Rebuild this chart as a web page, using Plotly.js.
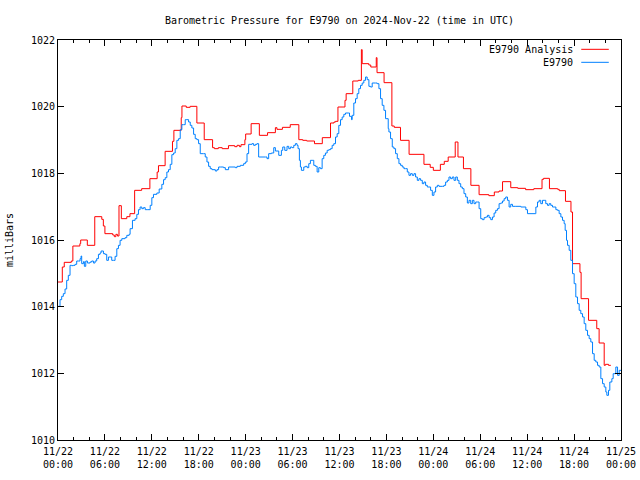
<!DOCTYPE html>
<html>
<head>
<meta charset="utf-8">
<script src="https://cdn.plot.ly/plotly-3.0.1.min.js"></script>
<style>html,body{margin:0;padding:0;background:#fff}#chart{width:640px;height:480px}</style>
</head>
<body>
<div id="chart"></div>
<script>
// Hours after 2024-11-22 00:00 UTC
const startUTC = Date.UTC(2024, 10, 22, 0, 0, 0);
const titleText = "Barometric Pressure for E9790 on 2024-Nov-22 (time in UTC)";
const yTitle = "milliBars";
const seriesNames = ["E9790 Analysis", "E9790"];

const analysisHours = [0,0.55,0.8,1.7,1.9,2.8,2.9,3.75,4.7,5.6,5.8,6.0,7.0,7.2,7.4,7.6,7.8,8.1,8.8,9.2,9.8,10.7,11.75,12.68,12.85,13.7,14.64,14.82,15.76,15.85,16.4,16.9,17.76,18.7,19.77,20.0,20.5,21.0,21.8,22.6,22.9,23.2,23.4,23.9,24.0,24.7,25.75,26.8,27.8,28.0,28.7,29.7,30.8,31.3,31.8,32.8,33.8,34.85,35.3,35.5,35.8,36.7,36.85,37.7,38.4,38.8,38.9,39.75,40.0,40.7,40.8,41.7,42.7,43.0,43.8,44.9,46.8,47.6,48.0,48.9,49.4,49.9,50.8,51.15,51.85,52.8,53.85,55.1,55.8,56.4,56.85,57.9,58.8,59.8,60.85,61.9,62.1,62.85,63.9,64.1,64.9,65.6,65.8,66.75,66.9,67.85,68.9,69.2,69.85,70.0,70.4,70.7];
const analysisValues = [1014.74,1015.19,1015.33,1015.37,1015.82,1015.89,1016.00,1015.84,1016.70,1016.62,1016.42,1016.19,1016.15,1016.10,1016.17,1016.12,1017.03,1016.64,1016.70,1016.79,1017.49,1017.54,1017.84,1018.04,1018.23,1018.66,1018.96,1019.29,1019.67,1020.02,1019.98,1020.01,1019.51,1019.01,1018.77,1018.74,1018.77,1018.74,1018.83,1018.80,1018.84,1018.80,1018.86,1019.01,1019.18,1019.49,1019.14,1019.22,1019.37,1019.32,1019.38,1019.46,1019.01,1018.99,1018.97,1018.89,1019.07,1019.51,1019.54,1019.56,1019.99,1020.19,1020.39,1020.77,1020.79,1021.71,1021.29,1021.25,1021.19,1021.47,1021.02,1020.72,1019.42,1019.38,1018.99,1018.57,1018.27,1018.18,1018.09,1018.27,1018.36,1018.49,1018.94,1018.49,1018.14,1017.64,1017.36,1017.33,1017.44,1017.47,1017.75,1017.57,1017.55,1017.51,1017.54,1017.82,1017.85,1017.54,1017.52,1017.48,1017.16,1016.84,1015.29,1015.03,1014.24,1013.59,1013.34,1012.91,1012.24,1012.27,1012.24,1012.24];

const stationHours = [0.04,0.26,0.47,0.68,0.90,1.11,1.32,1.54,1.75,1.96,2.18,2.39,2.60,2.82,2.95,3.03,3.25,3.37,3.55,3.76,4.10,4.31,4.53,4.74,4.95,5.17,5.38,5.51,5.81,6.02,6.23,6.45,6.66,6.87,7.09,7.30,7.52,7.73,7.94,8.16,8.58,8.80,9.10,9.22,9.52,9.86,10.08,10.29,10.50,10.72,10.93,11.15,11.49,11.79,12.00,12.21,12.64,12.94,13.28,13.50,13.71,13.92,14.13,14.35,14.56,14.78,14.99,15.20,15.42,15.63,15.84,16.06,16.27,16.48,16.70,16.91,17.12,17.34,17.55,17.76,17.98,18.19,18.62,18.83,19.05,19.26,19.47,19.69,20.12,20.33,20.54,20.75,21.18,21.40,21.82,22.25,22.68,22.89,23.32,23.53,23.74,23.96,24.17,24.38,24.81,25.02,25.24,25.45,25.66,26.09,26.52,26.73,26.94,27.29,27.59,27.80,28.01,28.23,28.57,28.74,29.00,29.29,29.51,29.72,29.93,30.15,30.36,30.57,30.70,30.87,31.00,31.13,31.43,31.64,31.86,32.07,32.28,32.50,32.71,32.92,33.14,33.35,33.56,33.78,33.99,34.20,34.42,34.63,34.85,35.06,35.27,35.49,35.70,35.91,36.13,36.34,36.55,36.77,37.11,37.28,37.54,37.62,37.83,38.05,38.26,38.47,38.69,38.90,39.11,39.33,39.54,39.76,39.97,40.18,40.61,40.82,41.04,41.25,41.46,41.68,41.89,42.23,42.32,42.53,42.75,42.96,43.17,43.39,43.60,43.81,44.03,44.24,44.45,44.67,44.88,45.09,45.31,45.52,45.73,45.95,46.16,46.37,46.59,46.80,47.01,47.23,47.44,47.65,47.87,48.08,48.29,48.51,48.72,49.15,49.36,49.57,49.79,50.00,50.21,50.43,50.64,50.86,51.07,51.28,51.50,51.71,51.92,52.14,52.35,52.56,52.78,52.99,53.20,53.42,53.63,53.85,54.06,54.27,54.49,54.70,54.92,55.13,55.34,55.56,55.77,55.98,56.20,56.41,56.62,56.84,57.05,57.26,57.48,57.69,57.90,58.12,58.55,59.19,59.83,60.04,61.02,61.11,61.32,61.53,61.74,61.96,62.17,62.38,62.60,62.81,63.02,63.24,63.45,63.67,63.88,64.09,64.31,64.52,64.73,64.86,65.03,65.16,65.37,65.58,65.80,66.01,66.22,66.44,66.65,66.86,67.08,67.29,67.50,67.72,67.93,68.14,68.36,68.57,68.78,69.00,69.21,69.42,69.64,69.85,70.06,70.19,70.40,70.57,70.83,71.00,71.34,71.56,71.77,71.98];
const stationValues = [1014.01,1014.21,1014.31,1014.39,1014.53,1014.79,1014.94,1015.24,1015.23,1015.24,1015.27,1015.37,1015.37,1015.44,1015.52,1015.29,1015.35,1015.21,1015.37,1015.31,1015.34,1015.37,1015.31,1015.37,1015.44,1015.57,1015.61,1015.67,1015.59,1015.57,1015.39,1015.49,1015.49,1015.39,1015.39,1015.51,1015.74,1015.84,1015.99,1016.04,1016.07,1016.14,1016.17,1016.34,1016.59,1016.64,1016.77,1016.91,1016.99,1016.94,1016.97,1016.91,1016.91,1017.04,1017.27,1017.37,1017.41,1017.53,1017.67,1017.81,1017.87,1018.04,1018.11,1018.27,1018.56,1018.61,1018.74,1018.99,1019.04,1019.31,1019.46,1019.46,1019.61,1019.61,1019.54,1019.44,1019.36,1019.17,1019.04,1019.01,1018.89,1018.59,1018.59,1018.49,1018.34,1018.21,1018.14,1018.11,1018.07,1018.11,1018.19,1018.19,1018.17,1018.11,1018.19,1018.19,1018.17,1018.21,1018.24,1018.24,1018.29,1018.34,1018.59,1018.87,1018.89,1018.84,1018.87,1018.89,1018.49,1018.49,1018.49,1018.44,1018.59,1018.61,1018.77,1018.67,1018.67,1018.54,1018.69,1018.79,1018.69,1018.81,1018.74,1018.79,1018.77,1018.84,1018.89,1018.84,1018.74,1018.39,1018.19,1018.09,1018.19,1018.21,1018.17,1018.29,1018.39,1018.39,1018.24,1018.21,1018.04,1018.17,1018.14,1018.44,1018.54,1018.61,1018.69,1018.71,1018.74,1018.84,1018.89,1019.09,1019.19,1019.44,1019.61,1019.69,1019.77,1019.81,1019.81,1019.71,1019.61,1019.74,1020.11,1020.24,1020.39,1020.54,1020.64,1020.71,1020.79,1020.89,1020.81,1020.61,1020.59,1020.71,1020.71,1020.69,1020.54,1020.24,1020.04,1019.89,1019.64,1019.34,1019.24,1019.04,1018.79,1018.74,1018.59,1018.44,1018.29,1018.24,1018.19,1018.14,1018.14,1018.04,1017.94,1017.99,1017.94,1017.99,1017.89,1017.79,1017.84,1017.79,1017.69,1017.74,1017.64,1017.59,1017.59,1017.49,1017.34,1017.44,1017.59,1017.64,1017.61,1017.61,1017.64,1017.74,1017.79,1017.89,1017.84,1017.89,1017.79,1017.89,1017.79,1017.69,1017.59,1017.54,1017.39,1017.29,1017.11,1017.19,1017.09,1017.19,1017.09,1017.14,1017.14,1016.94,1016.64,1016.61,1016.67,1016.69,1016.74,1016.67,1016.61,1016.69,1016.81,1016.89,1016.94,1017.09,1017.11,1017.17,1017.24,1017.29,1017.19,1016.99,1017.07,1017.01,1017.01,1016.99,1016.91,1016.79,1016.79,1016.99,1017.14,1017.19,1017.09,1017.19,1017.19,1017.09,1017.04,1017.09,1017.04,1016.99,1016.99,1016.91,1016.89,1016.79,1016.69,1016.59,1016.49,1016.29,1015.99,1015.84,1015.69,1015.39,1014.99,1014.69,1014.29,1014.09,1013.89,1013.79,1013.69,1013.49,1013.29,1013.14,1013.04,1012.94,1012.59,1012.39,1012.34,1012.24,1012.19,1011.84,1011.69,1011.59,1011.44,1011.34,1011.49,1011.74,1011.84,1011.99,1012.19,1011.94,1012.09,1012.07];

const toTime = h => startUTC + h * 3600000;
const FONT = "DejaVu Sans Mono, Liberation Mono, monospace";
const RED = "#ff0000", BLUE = "#0080ff";

const traces = [
  {x: analysisHours.map(toTime), y: analysisValues, name: seriesNames[0], type: "scatter", mode: "lines",
   line: {color: RED, width: 1, shape: "hv"}, showlegend: false},
  {x: stationHours.map(toTime), y: stationValues, name: seriesNames[1], type: "scatter", mode: "lines",
   line: {color: BLUE, width: 1, shape: "hv"}, showlegend: false}
];

const layout = {
  width: 640, height: 480,
  margin: {l: 58, r: 19, t: 40, b: 40},
  paper_bgcolor: "#fff", plot_bgcolor: "#fff",
  font: {family: FONT, size: 10, color: "#000"},
  title: {text: titleText, x: 0.5, xref: "paper", xanchor: "center", y: 0.958, yref: "container", yanchor: "middle", font: {family: FONT, size: 10, color: "#000"}},
  xaxis: {
    type: "date", range: [toTime(0), toTime(72)],
    tick0: toTime(0), dtick: 6 * 3600000, tickformat: "%m/%d<br>%H:%M",
    ticks: "inside", ticklen: 6, tickwidth: 1, tickcolor: "#000", ticklabelstandoff: 2,
    minor: {dtick: 2 * 3600000, ticks: "inside", ticklen: 3, tickcolor: "#000", showgrid: false},
    showline: true, linecolor: "#000", linewidth: 1, mirror: "ticks",
    showgrid: false, zeroline: false, fixedrange: true,
    tickfont: {family: FONT, size: 10, color: "#000"}
  },
  yaxis: {
    range: [1010, 1022], tick0: 1010, dtick: 2,
    ticks: "inside", ticklen: 6, tickwidth: 1, tickcolor: "#000",
    showline: true, linecolor: "#000", linewidth: 1, mirror: "ticks",
    showgrid: false, zeroline: false, fixedrange: true,
    title: {text: yTitle, standoff: 15, font: {family: FONT, size: 10, color: "#000"}},
    tickfont: {family: FONT, size: 10, color: "#000"}
  },
  annotations: [
    {text: seriesNames[0], xref: "paper", yref: "paper", x: 0.9175, y: 0.9767, xanchor: "right", yanchor: "middle", showarrow: false, font: {family: FONT, size: 10, color: "#000"}},
    {text: seriesNames[1], xref: "paper", yref: "paper", x: 0.9175, y: 0.9442, xanchor: "right", yanchor: "middle", showarrow: false, font: {family: FONT, size: 10, color: "#000"}}
  ],
  shapes: [
    {type: "line", xref: "paper", yref: "paper", x0: 0.9294, x1: 0.9783, y0: 0.9767, y1: 0.9767, line: {color: RED, width: 1}},
    {type: "line", xref: "paper", yref: "paper", x0: 0.9294, x1: 0.9783, y0: 0.9442, y1: 0.9442, line: {color: BLUE, width: 1}}
  ]
};

Plotly.newPlot("chart", traces, layout, {staticPlot: true, displayModeBar: false});
</script>
</body>
</html>
